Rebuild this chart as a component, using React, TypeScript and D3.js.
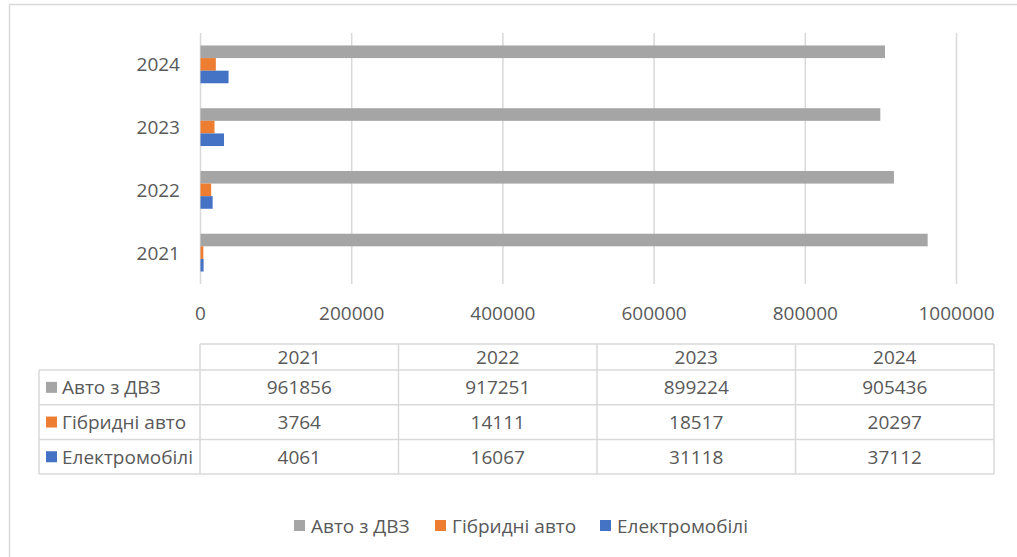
import React from "react";
import * as d3 from "d3";

// chart data
const years = ["2021", "2022", "2023", "2024"];
const seriesNames = ["Авто з ДВЗ", "Гібридні авто", "Електромобілі"];
const iceCars = [961856, 917251, 899224, 905436];
const hybridCars = [3764, 14111, 18517, 20297];
const electricCars = [4061, 16067, 31118, 37112];
const seriesColors = ["#a5a5a5", "#ed7d31", "#4472c4"];
const xTicks = [0, 200000, 400000, 600000, 800000, 1000000];

const seriesValues = [iceCars, hybridCars, electricCars];

const W = 1017;
const H = 557;
const FONT = "'Open Sans', sans-serif";
const TEXT = "#595959";
const GRID = "#d9d9d9";

const App = () => {
  // plot area
  const x = d3.scaleLinear().domain([0, 1000000]).range([200.5, 956.5]);
  const y = d3.scaleBand().domain(years).range([284, 33]).padding(0);
  const ySub = d3
    .scaleBand()
    .domain(seriesNames)
    .range([0, y.bandwidth()])
    .paddingInner(0)
    .paddingOuter(0.99);

  // data table
  const colX = d3.scaleBand().domain(years).range([200, 994]);
  const labelLeft = 39;
  const headerTop = 344;
  const headerH = 26;
  const rowH = 34.7;
  const rowY = d3
    .scaleBand()
    .domain(seriesNames)
    .range([headerTop + headerH, headerTop + headerH + rowH * 3]);
  const tableBottom = headerTop + headerH + rowH * 3;

  // legend
  const legendX = [294, 435, 600];
  const legendY = 526;

  return (
    <svg
      width={W}
      height={H}
      style={{ position: "absolute", left: 0, top: 0, background: "#fff" }}
      fontFamily={FONT}
    >
      {/* chart frame */}
      <rect x={9.5} y={4.5} width={W + 20} height={H + 20} fill="#fff" stroke={GRID} strokeWidth={1.5} />

      {/* gridlines */}
      {xTicks.map((t) => (
        <line key={t} x1={x(t)} x2={x(t)} y1={33} y2={284} stroke={GRID} strokeWidth={1.5} />
      ))}

      {/* bars */}
      {years.map((yr, i) => (
        <g key={yr} transform={`translate(0,${y(yr)})`}>
          {seriesNames.map((s, k) => (
            <rect
              key={s}
              x={x(0)}
              y={ySub(s)}
              width={x(seriesValues[k][i]) - x(0)}
              height={ySub.bandwidth()}
              fill={seriesColors[k]}
            />
          ))}
        </g>
      ))}

      {/* category labels */}
      {years.map((yr) => (
        <text
          key={yr}
          x={180}
          y={(y(yr) as number) + y.bandwidth() / 2}
          textAnchor="end"
          dominantBaseline="central"
          fontSize={19}
          fill={TEXT}
        >
          {yr}
        </text>
      ))}

      {/* x tick labels */}
      {xTicks.map((t) => (
        <text key={t} x={x(t)} y={313} textAnchor="middle" dominantBaseline="central" fontSize={19} fill={TEXT}>
          {t}
        </text>
      ))}

      {/* data table */}
      <g stroke={GRID} strokeWidth={1.5} fill="none">
        <line x1={200} x2={994} y1={headerTop} y2={headerTop} />
        {seriesNames.map((s) => (
          <line key={s} x1={labelLeft} x2={994} y1={rowY(s)} y2={rowY(s)} />
        ))}
        <line x1={labelLeft} x2={994} y1={tableBottom} y2={tableBottom} />
        <line x1={labelLeft} x2={labelLeft} y1={headerTop + headerH} y2={tableBottom} />
        {years.map((yr) => (
          <line key={yr} x1={colX(yr)} x2={colX(yr)} y1={headerTop} y2={tableBottom} />
        ))}
        <line x1={994} x2={994} y1={headerTop} y2={tableBottom} />
      </g>
      {years.map((yr) => (
        <text
          key={yr}
          x={(colX(yr) as number) + colX.bandwidth() / 2}
          y={headerTop + headerH / 2}
          textAnchor="middle"
          dominantBaseline="central"
          fontSize={19}
          fill={TEXT}
        >
          {yr}
        </text>
      ))}
      {seriesNames.map((s, k) => (
        <g key={s}>
          <rect x={46} y={(rowY(s) as number) + rowH / 2 - 5.5} width={11} height={11} fill={seriesColors[k]} />
          <text x={62} y={(rowY(s) as number) + rowH / 2} dominantBaseline="central" fontSize={19} fill={TEXT}>
            {s}
          </text>
          {years.map((yr, i) => (
            <text
              key={yr}
              x={(colX(yr) as number) + colX.bandwidth() / 2}
              y={(rowY(s) as number) + rowH / 2}
              textAnchor="middle"
              dominantBaseline="central"
              fontSize={19}
              fill={TEXT}
            >
              {seriesValues[k][i]}
            </text>
          ))}
        </g>
      ))}

      {/* legend */}
      {seriesNames.map((s, k) => (
        <g key={s}>
          <rect x={legendX[k]} y={legendY - 6} width={11} height={11} fill={seriesColors[k]} />
          <text x={legendX[k] + 17} y={legendY} dominantBaseline="central" fontSize={19} fill={TEXT}>
            {s}
          </text>
        </g>
      ))}
    </svg>
  );
};

export default App;
